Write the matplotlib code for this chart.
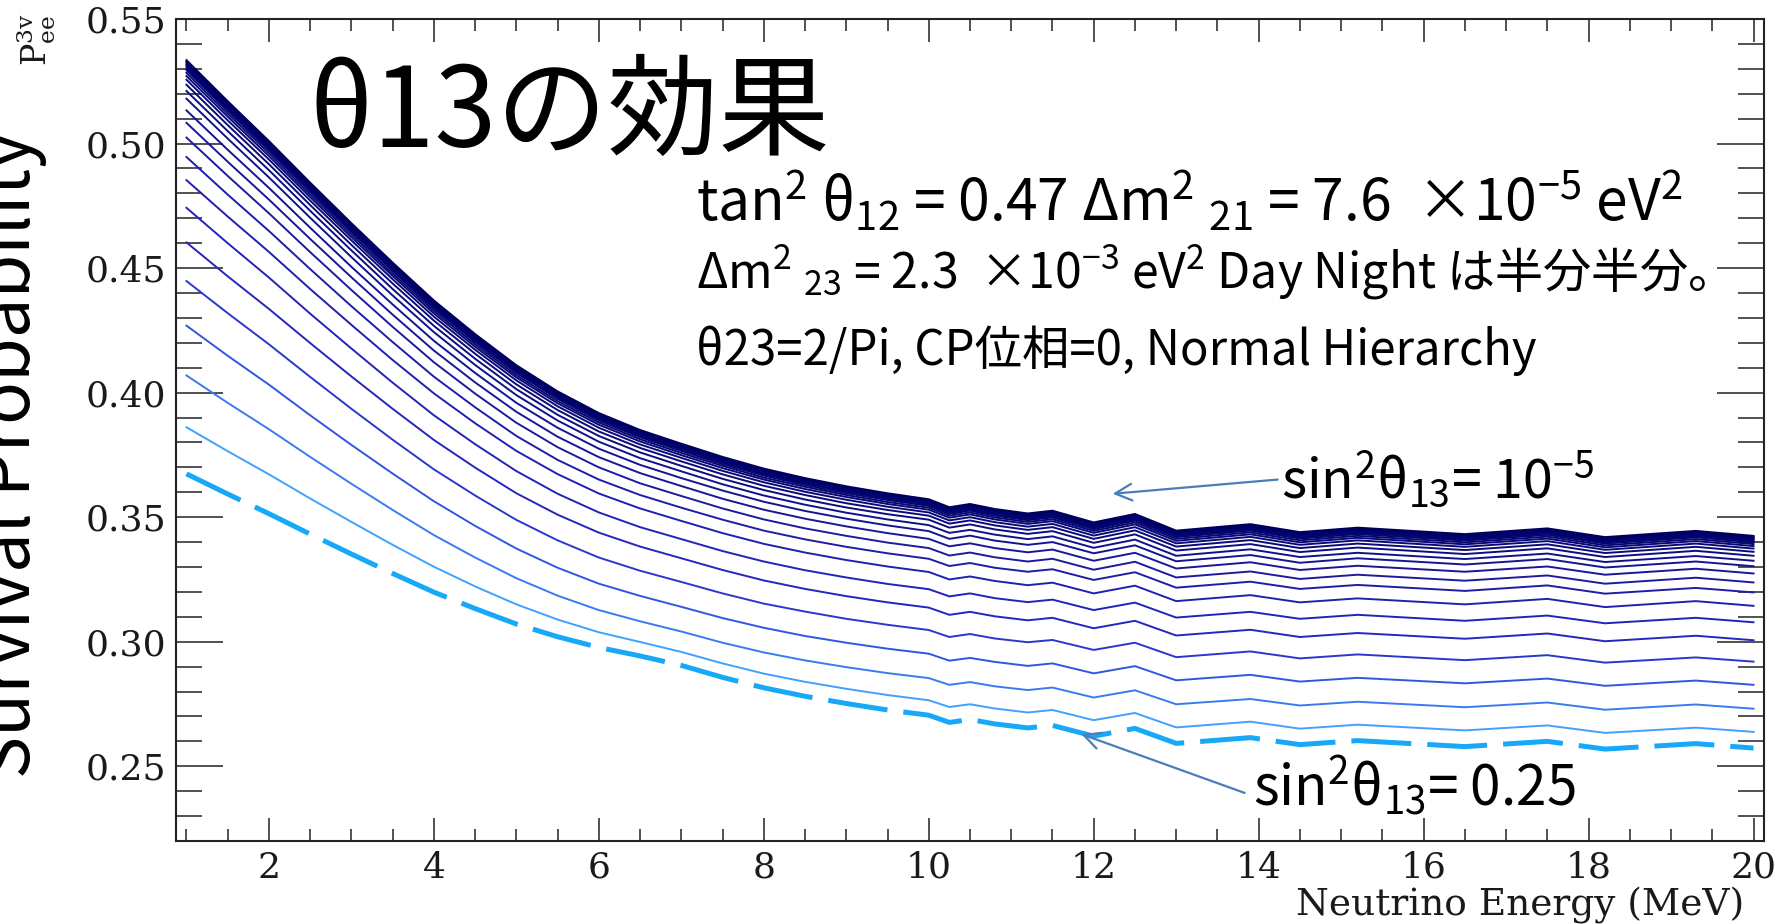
import matplotlib
matplotlib.use("Agg")
import matplotlib.pyplot as plt
import numpy as np
from matplotlib.ticker import MultipleLocator, FormatStrFormatter
from matplotlib.colors import LinearSegmentedColormap

# energy grid (MeV) shared by every curve
energy_mev = [1, 1.5, 2, 2.5, 3, 3.5, 4, 4.5, 5, 5.5, 6, 6.5, 7, 7.5, 8, 8.5, 9, 9.5, 10,
              10.25, 10.5, 10.8, 11.2, 11.5, 12, 12.5, 13, 13.9, 14.5, 15.2, 16.5, 17.5, 18.2, 19.3, 20]

# sin^2(theta13) of each curve, bottom (0.25) to top (1e-5)
sin2_theta13 = [0.25, 0.2, 0.16, 0.128, 0.1024, 0.0819, 0.0655, 0.0524, 0.0419,
                0.0336, 0.0268, 0.0215, 0.0172,
                0.0137, 0.0110, 0.0088, 0.0070, 0.0057, 0.0045, 0.0036, 0.0029,
                0.0022, 0.0017, 0.0012, 0.0007, 1e-5]

# survival probability P_ee(3nu) for each sin^2(theta13)
p_curve_00 = [.3674, .3593, .3514, .3432, .3352, .3274, .3199, .3133, .3071, .3020, .2977, .2943,
              .2905, .2857, .2815, .2781, .2752, .2726, .2705,
              .2676, .2688, .2670, .2654, .2664, .2621, .2652, .2592, .2615, .2587, .2603, .2579, .2600, .2569, .2591, .2573]
p_curve_01 = [.3861, .3765, .3672, .3575, .3481, .3389, .3301, .3222, .3150, .3089, .3038, .2999,
              .2959, .2913, .2872, .2839, .2811, .2786, .2765,
              .2738, .2749, .2732, .2716, .2726, .2685, .2714, .2656, .2679, .2651, .2667, .2644, .2664, .2634, .2655, .2638]
p_curve_02 = [.4069, .3959, .3853, .3742, .3634, .3529, .3428, .3338, .3255, .3185, .3127, .3082,
              .3041, .2996, .2957, .2925, .2898, .2874, .2854,
              .2827, .2838, .2821, .2806, .2816, .2776, .2805, .2749, .2770, .2744, .2759, .2737, .2756, .2727, .2748, .2731]
p_curve_03 = [.4269, .4148, .4032, .3909, .3790, .3675, .3564, .3465, .3374, .3297, .3233, .3184,
              .3140, .3095, .3056, .3023, .2996, .2972, .2952,
              .2924, .2935, .2919, .2903, .2913, .2873, .2902, .2845, .2867, .2840, .2855, .2833, .2852, .2823, .2844, .2827]
p_curve_04 = [.4448, .4319, .4194, .4063, .3935, .3811, .3692, .3587, .3489, .3407, .3338, .3285,
              .3240, .3194, .3153, .3121, .3092, .3068, .3047,
              .3019, .3031, .3013, .2998, .3007, .2967, .2996, .2938, .2961, .2933, .2949, .2926, .2946, .2916, .2937, .2920]
p_curve_05 = [.4603, .4467, .4336, .4199, .4065, .3935, .3810, .3699, .3596, .3510, .3438, .3382,
              .3335, .3288, .3246, .3212, .3183, .3158, .3137,
              .3108, .3120, .3102, .3086, .3096, .3054, .3084, .3025, .3048, .3019, .3035, .3012, .3033, .3002, .3024, .3006]
p_curve_06 = [.4742, .4600, .4462, .4317, .4177, .4040, .3909, .3793, .3685, .3594, .3519, .3460,
              .3412, .3364, .3322, .3287, .3258, .3232, .3211,
              .3182, .3194, .3175, .3159, .3169, .3127, .3157, .3097, .3120, .3092, .3108, .3084, .3105, .3074, .3096, .3078]
p_curve_07 = [.4853, .4707, .4565, .4416, .4272, .4131, .3997, .3877, .3766, .3673, .3595, .3535,
              .3485, .3436, .3393, .3358, .3328, .3302, .3280,
              .3250, .3262, .3244, .3227, .3237, .3194, .3225, .3163, .3187, .3158, .3174, .3150, .3172, .3139, .3163, .3144]
p_curve_08 = [.4946, .4795, .4649, .4496, .4347, .4203, .4064, .3941, .3826, .3730, .3651, .3589,
              .3538, .3490, .3446, .3411, .3381, .3355, .3333,
              .3304, .3316, .3297, .3281, .3291, .3248, .3279, .3217, .3241, .3212, .3228, .3204, .3226, .3193, .3216, .3198]
p_curve_09 = [.5024, .4870, .4720, .4564, .4412, .4264, .4122, .3996, .3879, .3781, .3700, .3636,
              .3585, .3535, .3491, .3455, .3425, .3398, .3376,
              .3346, .3358, .3339, .3322, .3333, .3289, .3321, .3258, .3282, .3252, .3269, .3245, .3266, .3233, .3257, .3238]
p_curve_10 = [.5083, .4927, .4775, .4617, .4463, .4313, .4169, .4041, .3923, .3823, .3741, .3677,
              .3625, .3574, .3530, .3494, .3463, .3436, .3413,
              .3383, .3395, .3376, .3359, .3370, .3325, .3357, .3294, .3319, .3288, .3305, .3281, .3302, .3269, .3293, .3274]
p_curve_11 = [.5133, .4975, .4822, .4662, .4505, .4354, .4208, .4079, .3959, .3859, .3775, .3710,
              .3657, .3607, .3562, .3525, .3494, .3467, .3444,
              .3413, .3426, .3406, .3389, .3400, .3355, .3387, .3323, .3348, .3317, .3335, .3310, .3332, .3298, .3322, .3303]
p_curve_12 = [.5180, .5020, .4864, .4702, .4544, .4390, .4243, .4111, .3990, .3888, .3803, .3737,
              .3684, .3632, .3587, .3550, .3518, .3491, .3468,
              .3437, .3449, .3430, .3412, .3423, .3377, .3410, .3345, .3371, .3340, .3357, .3332, .3354, .3320, .3344, .3325]
p_curve_13 = [.5211, .5050, .4893, .4730, .4571, .4416, .4268, .4136, .4014, .3911, .3826, .3760,
              .3706, .3654, .3609, .3571, .3539, .3512, .3490,
              .3458, .3471, .3451, .3433, .3444, .3397, .3431, .3366, .3392, .3360, .3378, .3352, .3375, .3340, .3365, .3345]
p_curve_14 = [.5236, .5074, .4917, .4753, .4593, .4438, .4289, .4156, .4033, .3930, .3844, .3778,
              .3724, .3672, .3626, .3589, .3556, .3529, .3506,
              .3474, .3487, .3467, .3449, .3460, .3413, .3447, .3382, .3408, .3376, .3394, .3368, .3391, .3356, .3381, .3361]
p_curve_15 = [.5256, .5093, .4936, .4771, .4611, .4455, .4305, .4172, .4049, .3945, .3859, .3792,
              .3738, .3686, .3640, .3602, .3570, .3542, .3519,
              .3487, .3500, .3480, .3462, .3473, .3426, .3460, .3395, .3421, .3389, .3407, .3381, .3404, .3369, .3394, .3374]
p_curve_16 = [.5271, .5108, .4950, .4785, .4624, .4468, .4318, .4184, .4061, .3957, .3871, .3804,
              .3749, .3697, .3651, .3613, .3581, .3553, .3530,
              .3498, .3511, .3491, .3473, .3484, .3437, .3471, .3405, .3431, .3399, .3417, .3391, .3414, .3379, .3404, .3384]
p_curve_17 = [.5284, .5120, .4962, .4796, .4635, .4478, .4328, .4194, .4070, .3966, .3880, .3813,
              .3758, .3706, .3659, .3622, .3589, .3561, .3538,
              .3506, .3519, .3499, .3481, .3492, .3445, .3479, .3413, .3439, .3407, .3425, .3399, .3422, .3387, .3412, .3392]
p_curve_18 = [.5295, .5131, .4972, .4806, .4645, .4488, .4337, .4203, .4079, .3975, .3888, .3821,
              .3766, .3713, .3667, .3629, .3596, .3569, .3545,
              .3513, .3526, .3506, .3488, .3499, .3452, .3486, .3420, .3446, .3414, .3432, .3406, .3429, .3394, .3419, .3399]
p_curve_19 = [.5302, .5138, .4979, .4813, .4651, .4494, .4343, .4209, .4085, .3980, .3894, .3826,
              .3772, .3719, .3672, .3635, .3602, .3574, .3550,
              .3518, .3531, .3511, .3493, .3504, .3457, .3491, .3425, .3451, .3419, .3437, .3411, .3434, .3399, .3424, .3404]
p_curve_20 = [.5309, .5144, .4985, .4819, .4657, .4500, .4348, .4214, .4090, .3985, .3898, .3831,
              .3776, .3723, .3677, .3639, .3606, .3578, .3554,
              .3522, .3535, .3515, .3497, .3508, .3461, .3495, .3429, .3455, .3423, .3441, .3415, .3438, .3403, .3428, .3408]
p_curve_21 = [.5315, .5150, .4991, .4825, .4662, .4505, .4353, .4219, .4094, .3990, .3903, .3835,
              .3781, .3728, .3681, .3643, .3610, .3582, .3559,
              .3527, .3540, .3520, .3502, .3513, .3466, .3500, .3433, .3459, .3427, .3445, .3419, .3442, .3407, .3432, .3412]
p_curve_22 = [.5319, .5155, .4995, .4829, .4666, .4509, .4357, .4223, .4098, .3993, .3906, .3839,
              .3784, .3731, .3684, .3646, .3613, .3585, .3562,
              .3530, .3543, .3523, .3505, .3516, .3469, .3503, .3436, .3462, .3430, .3448, .3422, .3445, .3410, .3435, .3415]
p_curve_23 = [.5324, .5159, .5000, .4833, .4670, .4513, .4361, .4226, .4102, .3997, .3910, .3842,
              .3787, .3734, .3687, .3650, .3617, .3589, .3565,
              .3533, .3546, .3526, .3508, .3519, .3472, .3506, .3439, .3465, .3433, .3451, .3425, .3448, .3413, .3438, .3418]
p_curve_24 = [.5329, .5164, .5004, .4837, .4675, .4517, .4365, .4230, .4105, .4000, .3913, .3845,
              .3791, .3738, .3691, .3653, .3620, .3592, .3568,
              .3536, .3549, .3529, .3511, .3522, .3475, .3509, .3442, .3468, .3436, .3454, .3428, .3451, .3416, .3441, .3421]
p_curve_25 = [.5335, .5170, .5010, .4843, .4680, .4522, .4370, .4235, .4110, .4005, .3918, .3850,
              .3795, .3742, .3695, .3657, .3624, .3596, .3572,
              .3540, .3553, .3533, .3515, .3526, .3479, .3513, .3446, .3472, .3440, .3458, .3432, .3455, .3420, .3445, .3425]

curves = [p_curve_00, p_curve_01, p_curve_02, p_curve_03, p_curve_04, p_curve_05, p_curve_06,
          p_curve_07, p_curve_08, p_curve_09, p_curve_10, p_curve_11, p_curve_12, p_curve_13,
          p_curve_14, p_curve_15, p_curve_16, p_curve_17, p_curve_18, p_curve_19, p_curve_20,
          p_curve_21, p_curve_22, p_curve_23, p_curve_24, p_curve_25]

x_ticks = [2, 4, 6, 8, 10, 12, 14, 16, 18, 20]
y_ticks = [0.25, 0.30, 0.35, 0.40, 0.45, 0.50, 0.55]

sans = "Noto Sans CJK JP"
plt.rcParams["font.family"] = ["DejaVu Serif"]
plt.rcParams["mathtext.fontset"] = "custom"
plt.rcParams["mathtext.rm"] = sans
plt.rcParams["mathtext.it"] = sans
plt.rcParams["mathtext.bf"] = sans

W, H = 1781, 924


def fx(x):
    return x / W


def fy(y):
    return 1 - y / H


# light blue for big theta13 down to navy for tiny theta13
cmap = LinearSegmentedColormap.from_list("theta13", [
    (0.0, "#00005c"), (0.45, "#000068"), (0.70, "#0a0a7a"), (0.74, "#121290"),
    (0.80, "#1a1aa0"), (0.86, "#2222b5"), (0.89, "#2525c0"), (0.912, "#2a35cc"),
    (0.934, "#3050dd"), (0.956, "#3a78f0"), (0.978, "#45a0ff"), (1.0, "#18a8f8")])

fig = plt.figure(figsize=(W / 100, H / 100), dpi=100)
ax = fig.add_axes([fx(176), fy(841), (1764 - 176) / W, (841 - 19) / H])

lo, hi = np.log10(min(sin2_theta13)), np.log10(max(sin2_theta13))
for s, p in zip(sin2_theta13, curves):
    c = cmap((np.log10(s) - lo) / (hi - lo))
    if s == max(sin2_theta13):
        ax.plot(energy_mev, p, color=c, lw=3.6, dashes=(12, 3.2), solid_capstyle="butt")
    else:
        ax.plot(energy_mev, p, color=c, lw=1.4, solid_joinstyle="round")

ax.set_xlim(0.873, 20.127)
ax.set_ylim(0.22, 0.55)
ax.set_xticks(x_ticks)
ax.set_yticks(y_ticks)
ax.xaxis.set_minor_locator(MultipleLocator(0.5))
ax.yaxis.set_minor_locator(MultipleLocator(0.01))
ax.yaxis.set_major_formatter(FormatStrFormatter("%.2f"))
ax.tick_params(which="both", direction="in", top=True, right=True, color="#222222",
               width=1.1, labelsize=26, labelcolor="#1a1a1a")
ax.tick_params(axis="x", which="major", length=16.5, pad=7)
ax.tick_params(axis="x", which="minor", length=8.6)
ax.tick_params(axis="y", which="major", length=34, pad=7)
ax.tick_params(axis="y", which="minor", length=18.7)
for sp in ax.spines.values():
    sp.set_linewidth(1.5)
    sp.set_color("#222222")

# axis titles
fig.text(fx(1744), fy(916), "Neutrino Energy (MeV)", ha="right", va="baseline", fontsize=27,
         color="#1a1a1a")
fig.text(fx(36), fy(40), r"$\mathrm{P}_{\mathrm{ee}}^{\mathrm{3v}}$", rotation=90, ha="center",
         va="center", fontsize=24, math_fontfamily="dejavuserif", color="#1a1a1a")
fig.text(fx(30), fy(778), "Survival Probability", rotation=90, rotation_mode="anchor",
         ha="left", va="baseline", fontsize=51, family=sans)

# slide annotations
fig.text(fx(309), fy(147), "θ13の効果", fontsize=80, family=sans, va="baseline")
fig.text(fx(696), fy(222), r"tan$^2$ θ$_{12}$ = 0.47 Δm$^2$ $_{21}$ = 7.6  ×10$^{-5}$ eV$^2$",
         fontsize=41, family=sans, va="baseline")
fig.text(fx(696), fy(288), r"Δm$^2$ $_{23}$ = 2.3  ×10$^{-3}$ eV$^2$ Day Night は半分半分。",
         fontsize=34.7, family=sans, va="baseline")
fig.text(fx(696), fy(365), "θ23=2/Pi, CP位相=0, Normal Hierarchy", fontsize=34.1, family=sans,
         va="baseline")
fig.text(fx(1281), fy(498), r"sin$^2$θ$_{13}$= 10$^{-5}$", fontsize=38.6, family=sans, va="baseline")
fig.text(fx(1253), fy(805), r"sin$^2$θ$_{13}$= 0.25", fontsize=39.5, family=sans, va="baseline")

arrow_kw = dict(arrowstyle="->,head_length=1.2,head_width=0.6", color="#4a7ebb", lw=1.6,
                shrinkA=0, shrinkB=0)
ax.annotate("", xy=(12.23, 0.3594), xytext=(14.23, 0.3651), arrowprops=arrow_kw)
ax.annotate("", xy=(11.85, 0.2629), xytext=(13.83, 0.2393), arrowprops=arrow_kw)

fig.savefig("out.png", dpi=100)
